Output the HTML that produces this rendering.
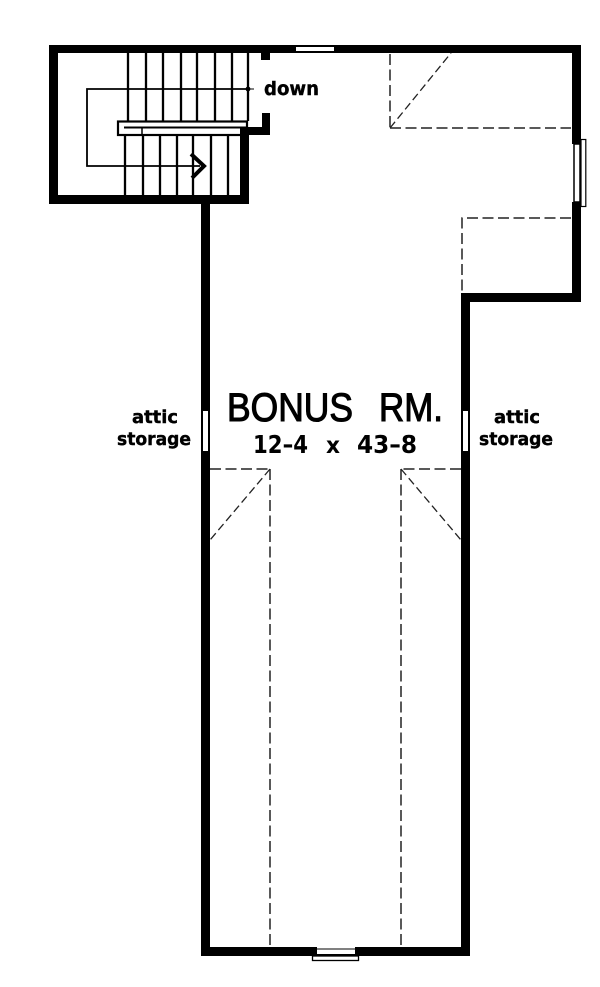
<!DOCTYPE html>
<html><head><meta charset="utf-8"><style>
html,body{margin:0;padding:0;background:#fff}
svg{display:block}
</style></head><body>
<svg xmlns="http://www.w3.org/2000/svg" width="600" height="987" viewBox="0 0 600 987">
<rect width="600" height="987" fill="#fff"/>
<!-- walls -->
<path fill="#000" fill-rule="evenodd" d="M49 45H581V302H470V956H201V204H49Z M58 53V195H240V135H210V127H262V113H270V135H249V204H210V947H461V293H572V53Z"/>
<path fill="#000" d="M240 127H270V135H240Z M261 53H270V60H261Z M240 127H249V204H240Z"/>
<!-- stairs -->
<g stroke="#000" stroke-width="2.3" fill="none">
<path d="M128 53V121M146 53V121M163 53V121M181 53V121M197 53V121M215 53V121M232 53V121M248 53V121"/>
<path d="M125 135V195M143 135V195M160 135V195M177 135V195M193 135V195M211 135V195M228 135V195"/>
</g>
<path d="M248 89H87V166H200" stroke="#000" stroke-width="1.8" fill="none"/>
<circle cx="248" cy="89" r="2.4" fill="#000"/>
<path d="M248 89H254" stroke="#000" stroke-width="1" fill="none"/>
<path d="M191 154L204 166L192 178" stroke="#000" stroke-width="4" fill="none"/>
<rect x="118" y="121.5" width="129" height="13.5" fill="#fff" stroke="#000" stroke-width="2.2"/>
<path d="M124 127.5H247" stroke="#000" stroke-width="2" fill="none"/>
<path d="M142 128V135" stroke="#000" stroke-width="1.5" fill="none"/>
<path d="M240 127H270V135H240Z" fill="#000"/>
<!-- windows -->
<rect x="296" y="47" width="38" height="4" fill="#fff"/>
<rect x="572" y="144" width="2" height="58" fill="#fff"/>
<rect x="574" y="144" width="6" height="58" fill="#fff" stroke="#000" stroke-width="1.5"/>
<rect x="581" y="139.5" width="4.8" height="67" fill="#fff" stroke="#000" stroke-width="1.2"/>
<rect x="203" y="411" width="5" height="40" fill="#fff"/>
<rect x="463" y="411" width="5" height="40" fill="#fff"/>
<rect x="317" y="947" width="38" height="1.5" fill="#fff"/>
<rect x="317" y="949.5" width="38" height="4.5" fill="#fff"/>
<rect x="312.5" y="956" width="46" height="4.5" fill="#fff" stroke="#000" stroke-width="1.3"/>
<!-- dashed -->
<g stroke="#222" stroke-width="1.5" fill="none" stroke-dasharray="11 4.5">
<path d="M390 54V128"/>
<path d="M390 128H571"/>
<path d="M571 218H462V293"/>
<path d="M210 469H270"/>
<path d="M270 469V947"/>
<path d="M461 469H401"/>
<path d="M401 469V947"/>
</g>
<g stroke="#222" stroke-width="1.3" fill="none" stroke-dasharray="8 4">
<path d="M390 128L451 53"/>
<path d="M270 469L210 540"/>
<path d="M401 469L461 540"/>
</g>
<!-- labels -->
<g fill="#000" stroke="#000" stroke-width="1.1" font-family="'Liberation Sans',sans-serif">
<text x="227" y="421" font-size="40" textLength="126" lengthAdjust="spacingAndGlyphs">BONUS</text>
<text x="379" y="421" font-size="40" textLength="64" lengthAdjust="spacingAndGlyphs">RM.</text>
</g>
<g fill="#000" font-family="'DejaVu Sans',sans-serif" font-weight="bold">
<text x="253" y="453" font-size="25" textLength="55" lengthAdjust="spacingAndGlyphs">12–4</text>
<text x="326" y="453" font-size="23" textLength="14" lengthAdjust="spacingAndGlyphs">x</text>
<text x="357" y="453" font-size="25" textLength="60" lengthAdjust="spacingAndGlyphs">43–8</text>
<g stroke="#000" stroke-width="0.4">
<text x="264" y="95" font-size="19" textLength="55" lengthAdjust="spacingAndGlyphs">down</text>
<text x="132" y="423" font-size="18" textLength="46" lengthAdjust="spacingAndGlyphs">attic</text>
<text x="117" y="445" font-size="18" textLength="74" lengthAdjust="spacingAndGlyphs">storage</text>
<text x="494" y="423" font-size="18" textLength="46" lengthAdjust="spacingAndGlyphs">attic</text>
<text x="479" y="445" font-size="18" textLength="74" lengthAdjust="spacingAndGlyphs">storage</text>
</g>
</g>
</svg>
</body></html>
